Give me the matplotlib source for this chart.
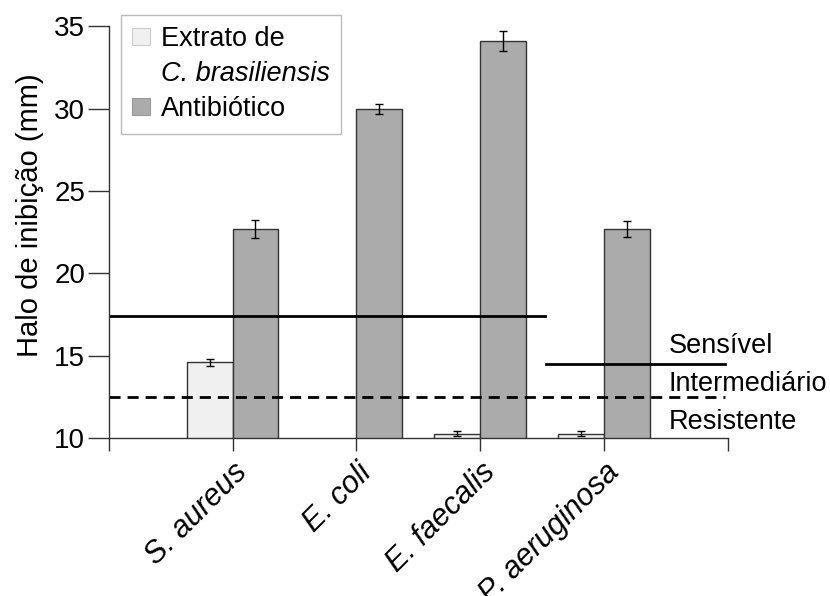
import matplotlib.pyplot as plt
import matplotlib.patches as mpatches
import numpy as np

plt.rcParams['font.family'] = ['Liberation Sans', 'DejaVu Sans']

species = ['S. aureus', 'E. coli', 'E. faecalis', 'P. aeruginosa']
extrato = [14.6, np.nan, 10.25, 10.25]
extrato_err = [0.2, np.nan, 0.15, 0.15]
antibiotico = [22.7, 30.0, 34.1, 22.7]
antibiotico_err = [0.55, 0.3, 0.6, 0.5]

limite_sensivel = 17.4
limite_sensivel_pa = 14.5
limite_resistente = 12.5

fig = plt.figure(figsize=(8.3, 5.96), dpi=100)
ax = fig.add_axes([0.131, 0.265, 0.746, 0.691])

x = np.arange(len(species))
w = 0.37
edge = '#333333'
ax.bar(x - w, extrato, w, align='edge', color='#f0f0f0', edgecolor=edge, linewidth=1)
ax.bar(x, antibiotico, w, align='edge', color='#ababab', edgecolor=edge, linewidth=1)
ax.errorbar(x - w / 2, extrato, yerr=extrato_err, fmt='none', ecolor='black',
            elinewidth=1, capsize=3, capthick=1)
ax.errorbar(x + w / 2, antibiotico, yerr=antibiotico_err, fmt='none', ecolor='black',
            elinewidth=1, capsize=3, capthick=1)

# linhas de corte
ax.plot([-1, 2.52], [limite_sensivel] * 2, color='black', lw=2)
ax.plot([2.53, 3.98], [limite_sensivel_pa] * 2, color='black', lw=2)
ax.plot([-1, 3.98], [limite_resistente] * 2, color='black', lw=2, ls=(0, (4, 2.5)))

ax.text(3.52, 15.6, 'Sensível', fontsize=19.5, va='center', ha='left')
ax.text(3.52, 13.3, 'Intermediário', fontsize=19.5, va='center', ha='left')
ax.text(3.52, 11.0, 'Resistente', fontsize=19.5, va='center', ha='left')

ax.set_xlim(-1, 4)
ax.set_ylim(10, 35)
ax.set_yticks([10, 15, 20, 25, 30, 35])
ax.set_xticks([-1, 0, 1, 2, 3, 4])
ax.set_xticklabels([''] + species + [''], rotation=45, ha='right',
                   rotation_mode='anchor', fontstyle='italic', fontsize=22)
ax.tick_params(axis='y', labelsize=20, length=15, width=1, color=edge, pad=2)
ax.tick_params(axis='x', length=9, width=1, color=edge, pad=5)
ax.set_ylabel('Halo de inibição (mm)', fontsize=21, labelpad=7, y=0.54)

for s in ['top', 'right']:
    ax.spines[s].set_visible(False)
for s in ['left', 'bottom']:
    ax.spines[s].set_color(edge)
    ax.spines[s].set_linewidth(1)

handles = [mpatches.Patch(facecolor='#f0f0f0', edgecolor='#cccccc', linewidth=0.8),
           mpatches.Patch(facecolor='none', edgecolor='none'),
           mpatches.Patch(facecolor='#ababab', edgecolor='#999999', linewidth=0.8)]
labels = ['Extrato de', 'C. brasiliensis', 'Antibiótico']
leg = fig.legend(handles, labels, loc='upper left', bbox_to_anchor=(121 / 830, 1 - 15 / 596),
                 fontsize=19.5, fancybox=False, edgecolor='#bbbbbb', framealpha=1,
                 handlelength=0.65, handleheight=0.6, handletextpad=0.4,
                 borderpad=0.42, labelspacing=0.33, borderaxespad=0)
leg.get_frame().set_linewidth(1)
leg.get_texts()[1].set_fontstyle('italic')

fig.savefig('out.png', dpi=100)
